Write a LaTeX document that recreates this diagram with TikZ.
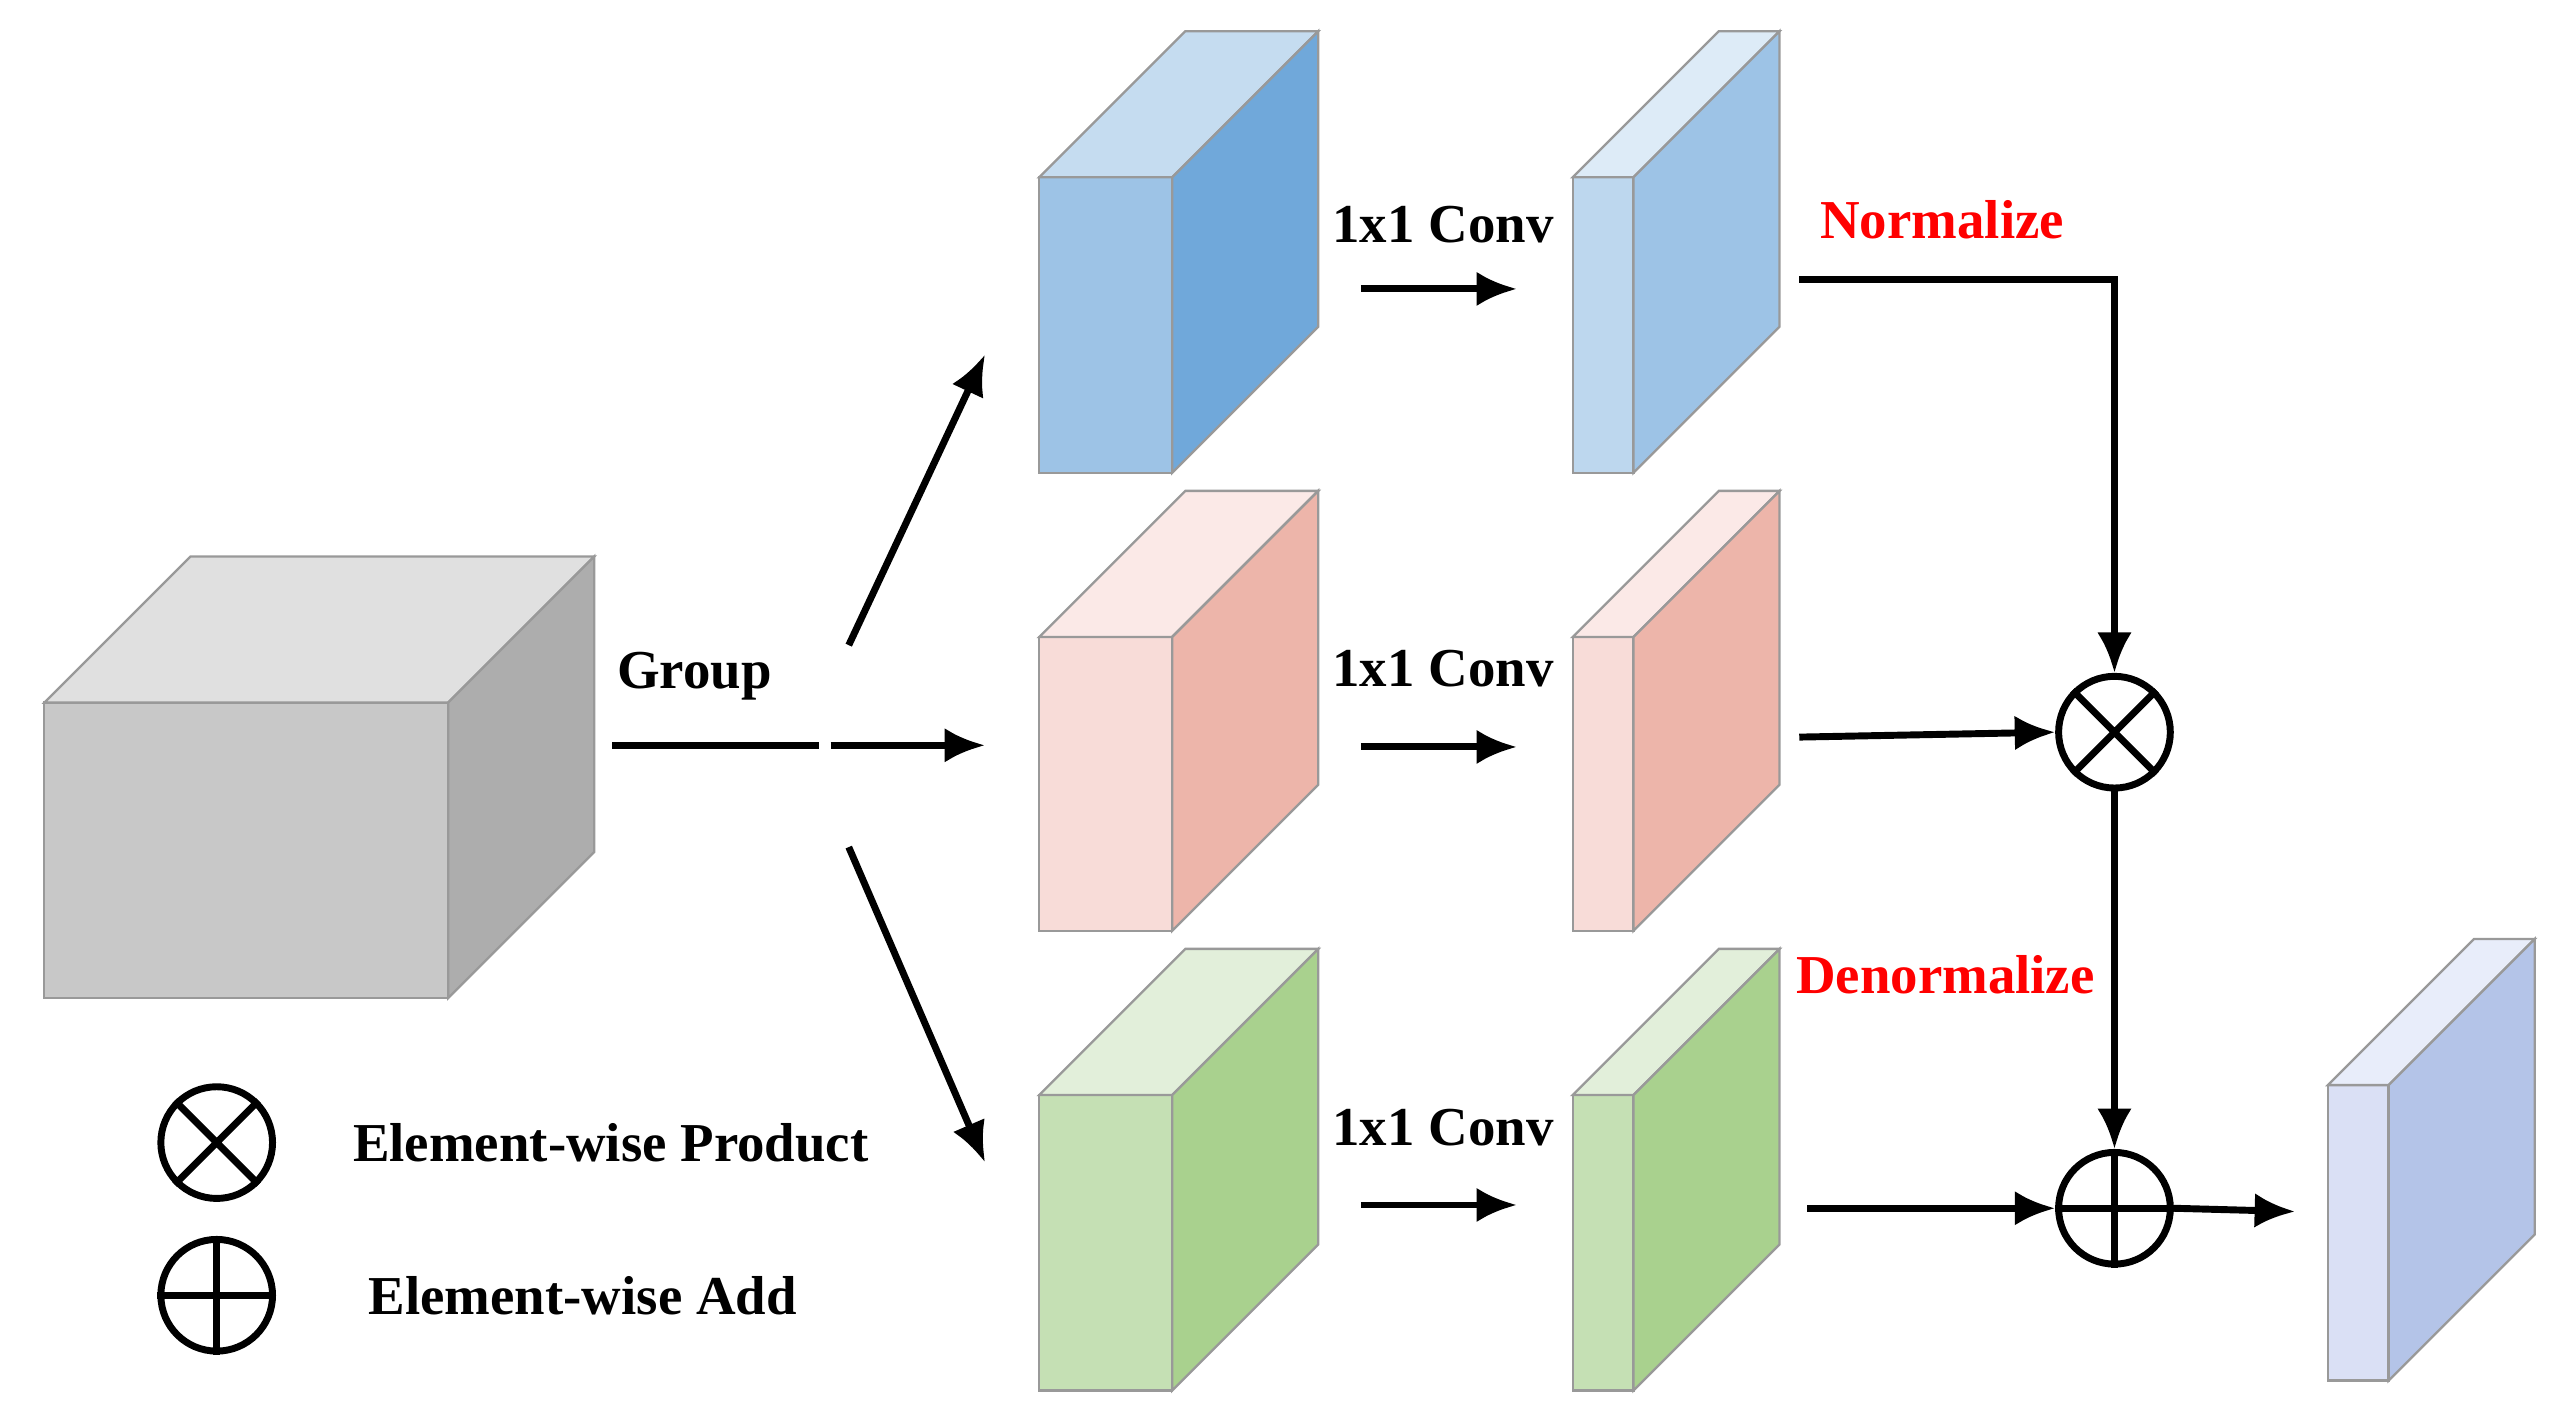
\documentclass[tikz,border=0pt]{standalone}
\usepackage{fontspec}
\setmainfont{Liberation Serif}
\usetikzlibrary{arrows.meta}
\definecolor{grayF}{HTML}{C8C8C8}\definecolor{grayT}{HTML}{E0E0E0}\definecolor{grayR}{HTML}{ADADAD}
\definecolor{blueF}{HTML}{9DC3E6}\definecolor{blueT}{HTML}{C5DCF0}\definecolor{blueR}{HTML}{70A8DA}
\definecolor{lblueF}{HTML}{BDD7EE}\definecolor{lblueT}{HTML}{DDEBF7}\definecolor{lblueR}{HTML}{9DC3E6}
\definecolor{pinkF}{HTML}{F8DCD8}\definecolor{pinkT}{HTML}{FBE9E7}\definecolor{pinkR}{HTML}{EDB5AA}
\definecolor{greenF}{HTML}{C5E0B4}\definecolor{greenT}{HTML}{E2EFDA}\definecolor{greenR}{HTML}{A9D18E}
\definecolor{outF}{HTML}{DAE0F5}\definecolor{outT}{HTML}{E8EDFA}\definecolor{outR}{HTML}{B4C4E8}
% cube: name, x, y(top of front), width, height, depth, front, top, right
\newcommand{\featcube}[9]{
  \filldraw[draw=gray!80,line width=0.4pt,fill=#7] (#2,#3) rectangle ++(#4,#5);
  \filldraw[draw=gray!80,line width=0.4pt,fill=#8] (#2,#3) -- ++(#6,-#6) -- ++(#4,0) -- ++(-#6,#6) -- cycle;
  \filldraw[draw=gray!80,line width=0.4pt,fill=#9] (#2+#4,#3) -- ++(#6,-#6) -- ++(0,#5) -- ++(-#6,#6) -- cycle;
  \coordinate (#1) at (#2+#4/2,#3+#5/2);
}
\tikzset{
  lbl/.style={font=\fontsize{9.5}{11}\selectfont\bfseries},
  red lbl/.style={lbl,text=red},
  flow/.style={line width=1.2pt,-{Latex[length=7pt,width=6pt]}},
  op/.style={circle,draw,line width=1.2pt,minimum size=0.68cm,inner sep=0pt},
}
\begin{document}
\begin{tikzpicture}[x=0.01cm,y=-0.01cm]
\useasboundingbox (0,0) rectangle (1560,861);
\featcube{inp}{27}{428}{246}{180}{89}{grayF}{grayT}{grayR}
\featcube{qA}{633}{108}{81}{180}{89}{blueF}{blueT}{blueR}
\featcube{kA}{633}{388}{81}{179}{89}{pinkF}{pinkT}{pinkR}
\featcube{vA}{633}{667}{81}{180}{89}{greenF}{greenT}{greenR}
\featcube{qB}{958}{108}{37}{180}{89}{lblueF}{lblueT}{lblueR}
\featcube{kB}{958}{388}{37}{179}{89}{pinkF}{pinkT}{pinkR}
\featcube{vB}{958}{667}{37}{180}{89}{greenF}{greenT}{greenR}
\featcube{outc}{1418}{661}{37}{180}{89}{outF}{outT}{outR}

% operators
\node[op] (mul) at (1288,446) {};
\draw[line width=1.2pt] (mul.north west) -- (mul.south east) (mul.north east) -- (mul.south west);
\node[op] (add) at (1288,736) {};
\draw[line width=1.2pt] (add.north) -- (add.south) (add.west) -- (add.east);

% group arrows
\coordinate (g0) at (373,454); \coordinate (g1) at (499,454);
\coordinate (g2) at (506,454); \coordinate (g3) at (600,454);
\coordinate (u0) at (517,393); \coordinate (u1) at (600,216);
\coordinate (d0) at (517,516); \coordinate (d1) at (600,708);
\draw[line width=1.2pt] (g0) -- (g1);
\draw[flow] (g2) -- (g3);
\draw[flow] (u0) -- (u1);
\draw[flow] (d0) -- (d1);
\node[lbl] (grp) at (423,412) {Group};

% 1x1 conv
\foreach \r/\y/\ly in {q/176/137, k/455/407, v/734/687}{
  \coordinate (\r c0) at (829,\y); \coordinate (\r c1) at (924,\y);
  \draw[flow] (\r c0) -- (\r c1);
  \node[lbl] at (879,\ly) {1x1 Conv};
}

% to operators
\coordinate (n0) at (1096,170);
\draw[flow] (n0) -| (mul.north);
\node[red lbl] (norm) at (1183,134) {Normalize};
\coordinate (m0) at (1096,449);
\draw[flow] (m0) -- (mul.west);
\draw[flow] (mul.south) -- (add.north);
\node[red lbl] (denorm) at (1185,594) {Denormalize};
\coordinate (a0) at (1101,736);
\draw[flow] (a0) -- (add.west);
\coordinate (o1) at (1398,738);
\draw[flow] (add.east) -- (o1);

% legend
\node[op] (lmul) at (132,696) {};
\draw[line width=1.2pt] (lmul.north west) -- (lmul.south east) (lmul.north east) -- (lmul.south west);
\node[lbl] at (372,696) {Element-wise Product};
\node[op] (ladd) at (132,789) {};
\draw[line width=1.2pt] (ladd.north) -- (ladd.south) (ladd.west) -- (ladd.east);
\node[lbl] at (355,789) {Element-wise Add};
\end{tikzpicture}
\end{document}
